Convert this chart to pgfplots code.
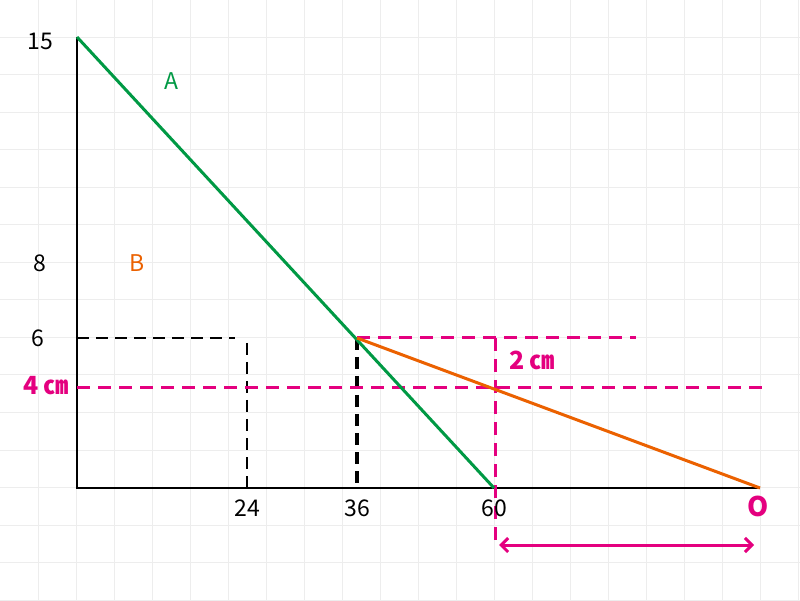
\documentclass[border=0pt]{standalone}
\usepackage{pgfplots}
\pgfplotsset{compat=1.18}
\usepackage{fontspec}
\setmainfont{Noto Sans CJK JP}
\newfontfamily\heavy{Noto Sans CJK JP Black}
\usetikzlibrary{arrows.meta}

\definecolor{grn}{HTML}{009944}
\definecolor{org}{HTML}{EB6100}
\definecolor{mag}{HTML}{E4007F}
\definecolor{gridc}{HTML}{EDEDED}

\tikzset{
  lab/.style={font=\fontsize{23}{28}\selectfont},
  bold/.style={mag, font=\fontsize{25}{30}\selectfont\heavy},
}

\begin{document}
\begin{tikzpicture}
  \begin{axis}
    [
	width=800pt, height=600pt, scale only axis,
	% one unit = one pixel, origin at the corner of the two axes
	xmin=-77, xmax=723,
	ymin=-112, ymax=488,
	axis line style={draw=none},
	xtick={-39,-1,...,723},
	ytick={-112,-74.5,...,488},
	xticklabels={}, yticklabels={},
	major tick length=0pt,
	grid=major,
	major grid style={draw=gridc, line width=1pt},
	clip=false,
    ]
	% axes
	\addplot [black, line width=2.8pt] coordinates {(0,451) (0,0) (683,0)};
	% black guides
	\addplot [black, line width=2.3pt, dash pattern=on 12pt off 7pt]
	  coordinates {(0,150) (158,150)};
	\addplot [black, line width=2.3pt, dash pattern=on 12pt off 7pt]
	  coordinates {(170,145) (170,0)};
	\addplot [black, line width=3.8pt, dash pattern=on 12pt off 7pt]
	  coordinates {(280,150) (280,0)};
	% magenta guides
	\addplot [mag, line width=3pt, dash pattern=on 13pt off 8pt]
	  coordinates {(280,150) (559,150)};
	\addplot [mag, line width=3pt, dash pattern=on 13pt off 8pt]
	  coordinates {(0,100) (685,100)};
	\addplot [mag, line width=3pt, dash pattern=on 13pt off 8pt]
	  coordinates {(418,150) (418,-52)};
	\addplot [mag, line width=3pt, {Straight Barb[length=7pt,width=14pt]}-{Straight Barb[length=7pt,width=14pt]}]
	  coordinates {(422,-57) (677,-57)};
	% A and B
	\addplot [grn, line width=3pt] coordinates {(0,451) (417,0)};
	\addplot [org, line width=3pt] coordinates {(280,150) (683,0)};

	\node [lab] at (axis cs:-37,447) {15};
	\node [lab] at (axis cs:-37,225) {8};
	\node [lab] at (axis cs:-39,150) {6};
	\node [bold] at (axis cs:-31,102) {4 ㎝};
	\node [bold] at (axis cs:455,128) {2 ㎝};
	\node [lab] at (axis cs:170,-20) {24};
	\node [lab] at (axis cs:280,-20) {36};
	\node [lab] at (axis cs:417,-20) {60};
	\node [bold, font=\fontsize{27}{30}\selectfont\heavy] at (axis cs:681,-18) {O};
	\node [lab, grn] at (axis cs:94,407) {A};
	\node [lab, org] at (axis cs:60,225) {B};
  \end{axis}
  \pgfresetboundingbox
  \path [use as bounding box] (current axis.south west) rectangle (current axis.north east);
\end{tikzpicture}
\end{document}
